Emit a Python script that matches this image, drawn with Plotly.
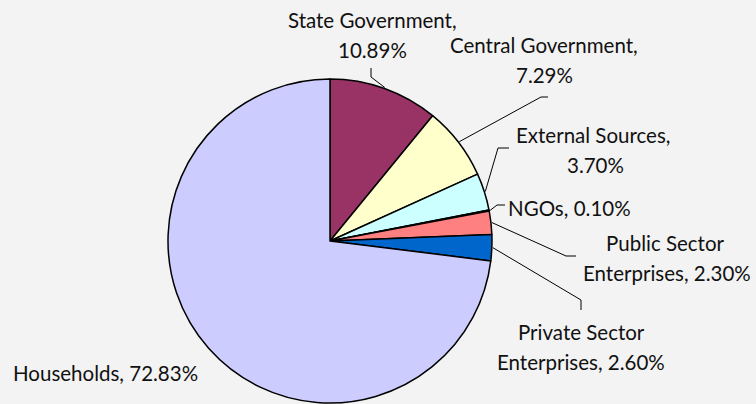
import math
import plotly.graph_objects as go

# Sources of funding, clockwise from 12 o'clock
categories = ["State Government", "Central Government", "External Sources", "NGOs",
              "Public Sector Enterprises", "Private Sector Enterprises", "Households"]
shares = [10.89, 7.29, 3.70, 0.10, 2.30, 2.60, 72.83]
slice_colors = ["#993366", "#FFFFCC", "#CCFFFF", "#FF8080", "#FF8080", "#0066CC", "#CCCCFF"]

# Label text lines for each category
label_lines = [
    ["State Government,", "10.89%"],
    ["Central Government,", "7.29%"],
    ["External Sources,", "3.70%"],
    ["NGOs, 0.10%"],
    ["Public Sector", "Enterprises, 2.30%"],
    ["Private Sector", "Enterprises, 2.60%"],
    ["Households, 72.83%"],
]

W, H = 756, 404
cx, cy, R = 330, 241, 162
BG = "#F3F3F3"
FONT = "Lato"
FS = 20.5

fig = go.Figure()
fig.add_trace(go.Pie(
    labels=categories, values=shares, sort=False, direction="clockwise", rotation=0,
    marker=dict(colors=slice_colors, line=dict(color="black", width=1.5)),
    textinfo="none", hoverinfo="label+percent", showlegend=False,
    domain=dict(x=[(cx - R) / W, (cx + R) / W], y=[1 - (cy + R) / H, 1 - (cy - R) / H]),
))

# Label layout: line centres and leader elbow/end points
label_pos = [
    [(372, 20), (372, 50)],
    [(544, 45), (544, 75)],
    [(593, 135), (595, 165)],
    [(569, 208)],
    [(665, 243), (667, 273)],
    [(581, 332), (581, 362)],
    [(105, 373)],
]
leader_path = [
    [(371, 77), (371, 68)],
    [(541, 97), (548, 97)],
    [(498, 148), (509, 148)],
    [(497, 205), (505, 205)],
    [(566, 256), (576, 256)],
    [(581, 300), (581, 310)],
    None,
]

total = sum(shares)
cum = 0.0
for i, v in enumerate(shares):
    mid = (cum + v / 2) / total * 2 * math.pi
    cum += v
    for (tx, ty), txt in zip(label_pos[i], label_lines[i]):
        fig.add_annotation(x=tx, y=ty, xref="x", yref="y", text=txt, showarrow=False,
                           font=dict(family=FONT, size=FS, color="#111111"),
                           xanchor="center", yanchor="middle")
    if leader_path[i]:
        sx = cx + (R + 1) * math.sin(mid)
        sy = cy - (R + 1) * math.cos(mid)
        pts = [(sx, sy)] + leader_path[i]
        path = "M " + " L ".join(f"{px:.1f},{py:.1f}" for px, py in pts)
        fig.add_shape(type="path", path=path, xref="x", yref="y",
                      line=dict(color="black", width=1))

fig.update_layout(
    width=W, height=H, margin=dict(l=0, r=0, t=0, b=0),
    paper_bgcolor=BG, plot_bgcolor=BG,
    xaxis=dict(range=[0, W], visible=False, fixedrange=True),
    yaxis=dict(range=[H, 0], visible=False, fixedrange=True),
)
fig.write_html("out.html")
